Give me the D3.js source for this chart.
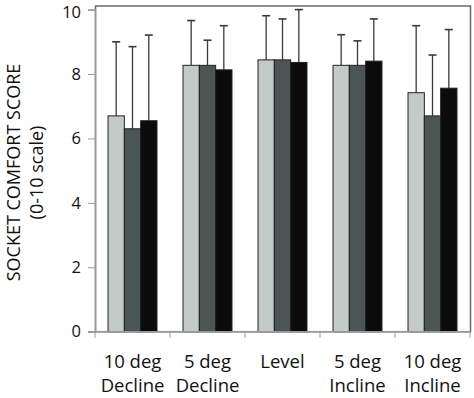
<!DOCTYPE html>
<html>
<head>
<meta charset="utf-8">
<script src="https://cdn.jsdelivr.net/npm/d3@7"></script>
<style>
  body { margin: 0; background: #fff; }
  text { font-family: "Open Sans", sans-serif; fill: #111; }
</style>
</head>
<body>
<script>
// chart size
var width = 474;
var height = 398;

// data
var categories = ["10 deg|Decline", "5 deg|Decline", "Level", "5 deg|Incline", "10 deg|Incline"];
var seriesNames = ["A", "B", "C"];
var seriesColors = ["#c3cbc8", "#4b5554", "#0b0b0b"];
var meanA = [6.7, 8.27, 8.44, 8.27, 7.42];
var meanB = [6.3, 8.27, 8.44, 8.27, 6.7];
var meanC = [6.55, 8.13, 8.36, 8.4, 7.56];
var upperA = [9.0, 9.66, 9.81, 9.22, 9.5];
var upperB = [8.85, 9.05, 9.71, 9.03, 8.59];
var upperC = [9.21, 9.5, 10.0, 9.71, 9.38];
var yTicks = [0, 2, 4, 6, 8, 10];

var means = [meanA, meanB, meanC];
var uppers = [upperA, upperB, upperC];

var margin = {left: 95, right: 4, top: 9.6, bottom: 66.3};

var svg = d3.select("body")
  .append("svg")
  .attr("width", width)
  .attr("height", height);

// scales
var x = d3.scaleBand()
  .domain(d3.range(categories.length))
  .range([margin.left, width - margin.right])
  .paddingInner(0)
  .paddingOuter(0);

var xInner = d3.scaleBand()
  .domain(d3.range(seriesNames.length))
  .range([0, x.bandwidth()])
  .paddingOuter(0.5 * 26 / 16.3)
  .paddingInner(0);

var y = d3.scaleLinear()
  .domain([0, 10])
  .range([height - margin.bottom, margin.top]);

// frame (top and right), a bit above the 10 line
svg.append("rect")
  .attr("x", margin.left + 0.5)
  .attr("y", y(10) - 3.6)
  .attr("width", width - margin.right - margin.left)
  .attr("height", y(0) - y(10) + 3.6)
  .attr("fill", "none")
  .attr("stroke", "#6a6a6a")
  .attr("stroke-width", 1.5);

// bars
var flat = [];
categories.forEach(function(c, i) {
  seriesNames.forEach(function(s, j) {
    flat.push({cat: i, ser: j, v: means[j][i], up: uppers[j][i]});
  });
});

function cx(d) { return x(d.cat) + xInner(d.ser) + xInner.bandwidth() / 2; }

// error bars (upper only)
var err = svg.append("g").attr("class", "errors");
err.selectAll("line.stem")
  .data(flat)
  .enter()
  .append("line")
  .attr("class", "stem")
  .attr("x1", cx)
  .attr("x2", cx)
  .attr("y1", function(d) { return y(d.v); })
  .attr("y2", function(d) { return y(d.up); })
  .attr("stroke", "#3a3a3a")
  .attr("stroke-width", 1.3);

err.selectAll("line.cap")
  .data(flat)
  .enter()
  .append("line")
  .attr("class", "cap")
  .attr("x1", function(d) { return cx(d) - 4; })
  .attr("x2", function(d) { return cx(d) + 4; })
  .attr("y1", function(d) { return y(d.up); })
  .attr("y2", function(d) { return y(d.up); })
  .attr("stroke", "#3a3a3a")
  .attr("stroke-width", 1.6);

svg.selectAll(".bar")
  .data(flat)
  .enter()
  .append("rect")
  .attr("class", "bar")
  .attr("x", function(d) { return x(d.cat) + xInner(d.ser); })
  .attr("y", function(d) { return y(d.v); })
  .attr("width", xInner.bandwidth())
  .attr("height", function(d) { return y(0) - y(d.v); })
  .attr("fill", function(d) { return seriesColors[d.ser]; })
  .attr("stroke", "#222")
  .attr("stroke-width", 1);

// y axis
var yAxis = svg.append("g")
  .attr("transform", "translate(" + margin.left + ",0)")
  .call(d3.axisLeft(y).tickValues(yTicks).tickSize(7).tickPadding(7));
yAxis.select(".domain").attr("stroke", "#9a9a9a").attr("stroke-width", 1.5);
yAxis.selectAll(".tick line").attr("stroke", "#9a9a9a");
yAxis.selectAll("text")
  .style("font-family", "'Open Sans', sans-serif")
  .style("font-size", "16.5px")
  .attr("fill", "#111");
// keep the top label inside the page
yAxis.selectAll(".tick")
  .filter(function(d) { return d === 10; })
  .select("text")
  .attr("y", 3);

// x axis with ticks at category boundaries
var xAxis = svg.append("g")
  .attr("transform", "translate(0," + y(0) + ")");
xAxis.append("line")
  .attr("x1", margin.left - 7)
  .attr("x2", width - margin.right)
  .attr("stroke", "#9a9a9a")
  .attr("stroke-width", 1.5);
xAxis.selectAll("line.tk")
  .data(d3.range(categories.length + 1))
  .enter()
  .append("line")
  .attr("class", "tk")
  .attr("x1", function(d) { return margin.left + d * x.bandwidth(); })
  .attr("x2", function(d) { return margin.left + d * x.bandwidth(); })
  .attr("y1", 0)
  .attr("y2", 6)
  .attr("stroke", "#9a9a9a");

var labels = xAxis.selectAll("text.cat")
  .data(categories)
  .enter()
  .append("text")
  .attr("class", "cat")
  .attr("text-anchor", "middle")
  .attr("x", function(d, i) { return x(i) + x.bandwidth() / 2; })
  .style("font-size", "18.5px");
labels.each(function(d) {
  var parts = d.split("|");
  var t = d3.select(this);
  parts.forEach(function(p, k) {
    t.append("tspan")
      .attr("x", t.attr("x"))
      .attr("y", 36 + k * 24)
      .text(p);
  });
});

// y label
var ylab = svg.append("text")
  .attr("transform", "translate(0," + 172.5 + ") rotate(-90)")
  .attr("text-anchor", "middle")
  .style("font-size", "18px");
ylab.append("tspan").attr("x", 0).attr("y", 20).text("SOCKET COMFORT SCORE");
ylab.append("tspan").attr("x", 0).attr("y", 43).text("(0-10 scale)");
</script>
</body>
</html>
